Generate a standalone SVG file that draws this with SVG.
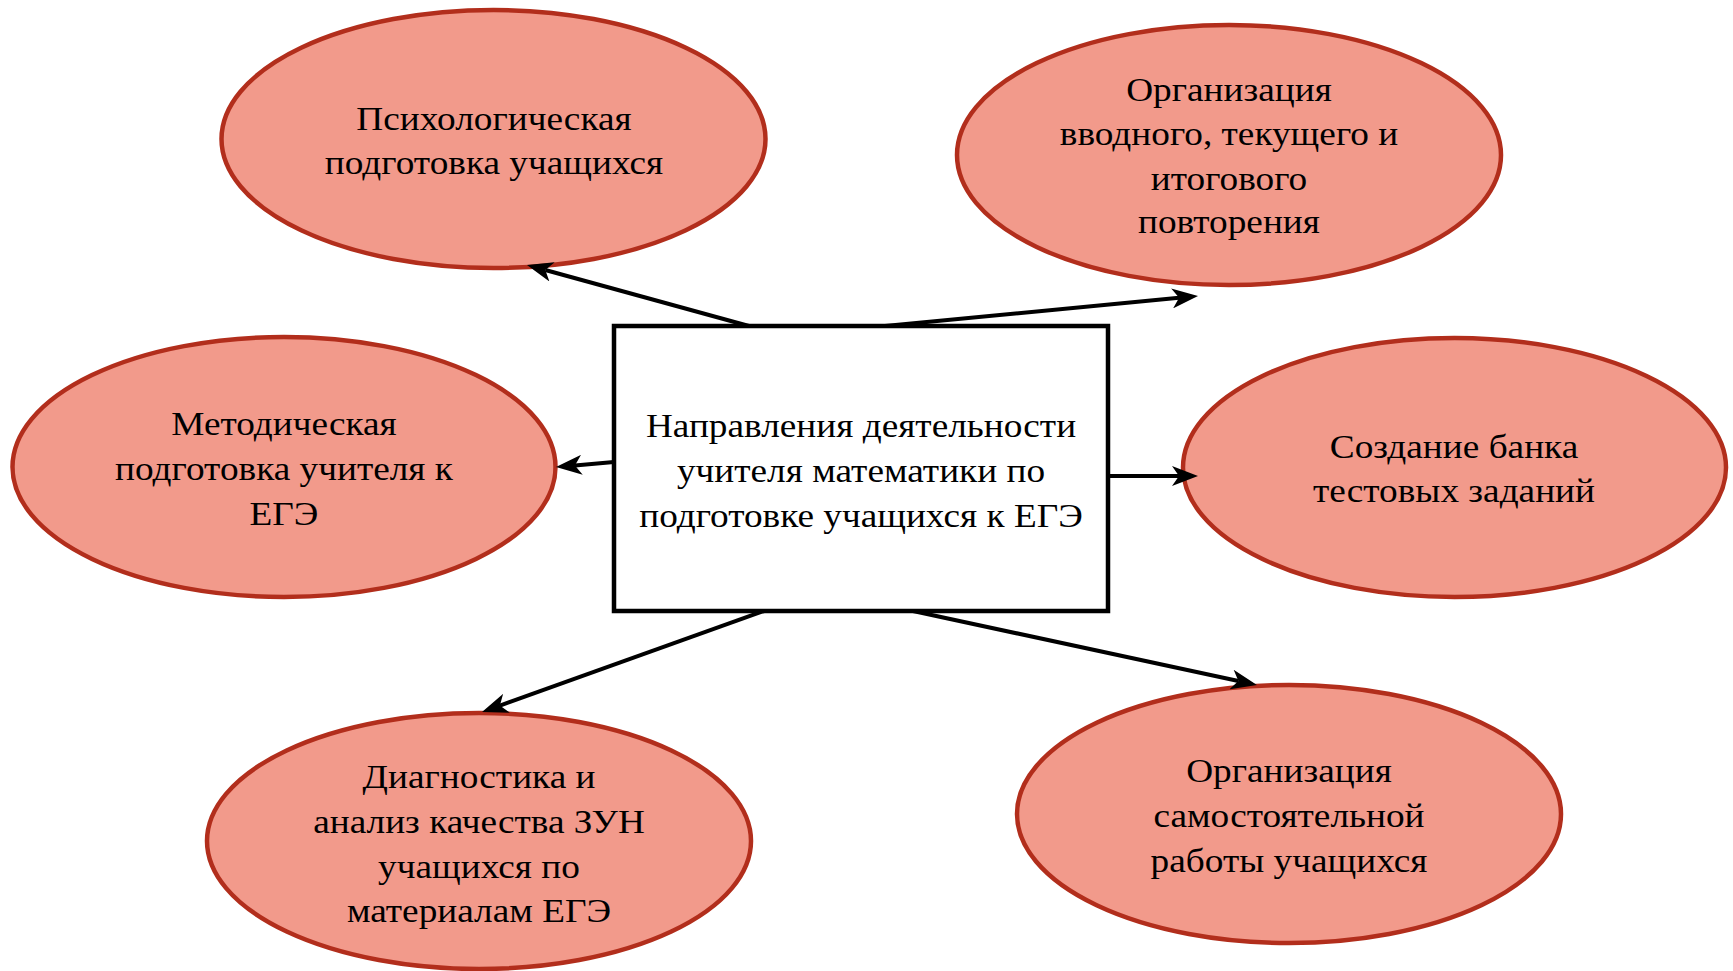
<svg xmlns="http://www.w3.org/2000/svg" width="1733" height="971" viewBox="0 0 1733 971">
<style>
.el{fill:#F29A8B;stroke:#B22E1C;stroke-width:4.5}
.box{fill:#FFFFFF;stroke:#000;stroke-width:4.5}
.t{font-family:"Liberation Serif","Times New Roman",serif;font-size:33px;fill:#000;text-anchor:middle}
.c{stroke:#000;stroke-width:4;fill:none;marker-end:url(#ah)}
</style>
<defs>
<marker id="ah" markerUnits="userSpaceOnUse" viewBox="0 0 26 20" markerWidth="26" markerHeight="20" refX="7" refY="10" orient="auto">
<path d="M0,0 L26,10 L0,20 L7,10 z" fill="#000"/>
</marker>
</defs>
<rect width="1733" height="971" fill="#FFFFFF"/>
<g id="n-psych">
<ellipse class="el" cx="493.5" cy="139" rx="272" ry="129"/>
<g transform="translate(494 0) scale(1.13 1)">
<text class="t" x="0" y="130">Психологическая</text>
<text class="t" x="0" y="174">подготовка учащихся</text>
</g>
</g>
<g id="n-repeat">
<ellipse class="el" cx="1229" cy="155" rx="272" ry="130"/>
<g transform="translate(1229 0) scale(1.13 1)">
<text class="t" x="0" y="101">Организация</text>
<text class="t" x="0" y="145">вводного, текущего и</text>
<text class="t" x="0" y="190">итогового</text>
<text class="t" x="0" y="233">повторения</text>
</g>
</g>
<g id="n-method">
<ellipse class="el" cx="284" cy="467" rx="271.5" ry="130"/>
<g transform="translate(284 0) scale(1.13 1)">
<text class="t" x="0" y="435">Методическая</text>
<text class="t" x="0" y="480">подготовка учителя к</text>
<text class="t" x="0" y="525">ЕГЭ</text>
</g>
</g>
<g id="n-bank">
<ellipse class="el" cx="1454.5" cy="467.5" rx="271.5" ry="129.5"/>
<g transform="translate(1454 0) scale(1.13 1)">
<text class="t" x="0" y="458">Создание банка</text>
<text class="t" x="0" y="502">тестовых заданий</text>
</g>
</g>
<g id="n-diag">
<ellipse class="el" cx="479" cy="841" rx="272" ry="128"/>
<g transform="translate(479 0) scale(1.13 1)">
<text class="t" x="0" y="788">Диагностика и</text>
<text class="t" x="0" y="833">анализ качества ЗУН</text>
<text class="t" x="0" y="878">учащихся по</text>
<text class="t" x="0" y="922">материалам ЕГЭ</text>
</g>
</g>
<g id="n-self">
<ellipse class="el" cx="1289" cy="814" rx="272" ry="129"/>
<g transform="translate(1289 0) scale(1.13 1)">
<text class="t" x="0" y="782">Организация</text>
<text class="t" x="0" y="827">самостоятельной</text>
<text class="t" x="0" y="872">работы учащихся</text>
</g>
</g>
<g id="n-center">
<rect class="box" x="614" y="326" width="494" height="285"/>
<g transform="translate(861 0) scale(1.13 1)">
<text class="t" x="0" y="437">Направления деятельности</text>
<text class="t" x="0" y="482">учителя математики по</text>
<text class="t" x="0" y="527">подготовке учащихся к ЕГЭ</text>
</g>
</g>
<g id="connectors">
<line class="c" x1="749" y1="326" x2="545.3" y2="270"/>
<line class="c" x1="885" y1="326" x2="1179.1" y2="297.8"/>
<line class="c" x1="614" y1="462" x2="574.9" y2="465.4"/>
<line class="c" x1="1108" y1="476" x2="1179" y2="476"/>
<line class="c" x1="764" y1="611" x2="499.9" y2="705.6"/>
<line class="c" x1="913" y1="611" x2="1238.4" y2="681"/>
</g>
</svg>
